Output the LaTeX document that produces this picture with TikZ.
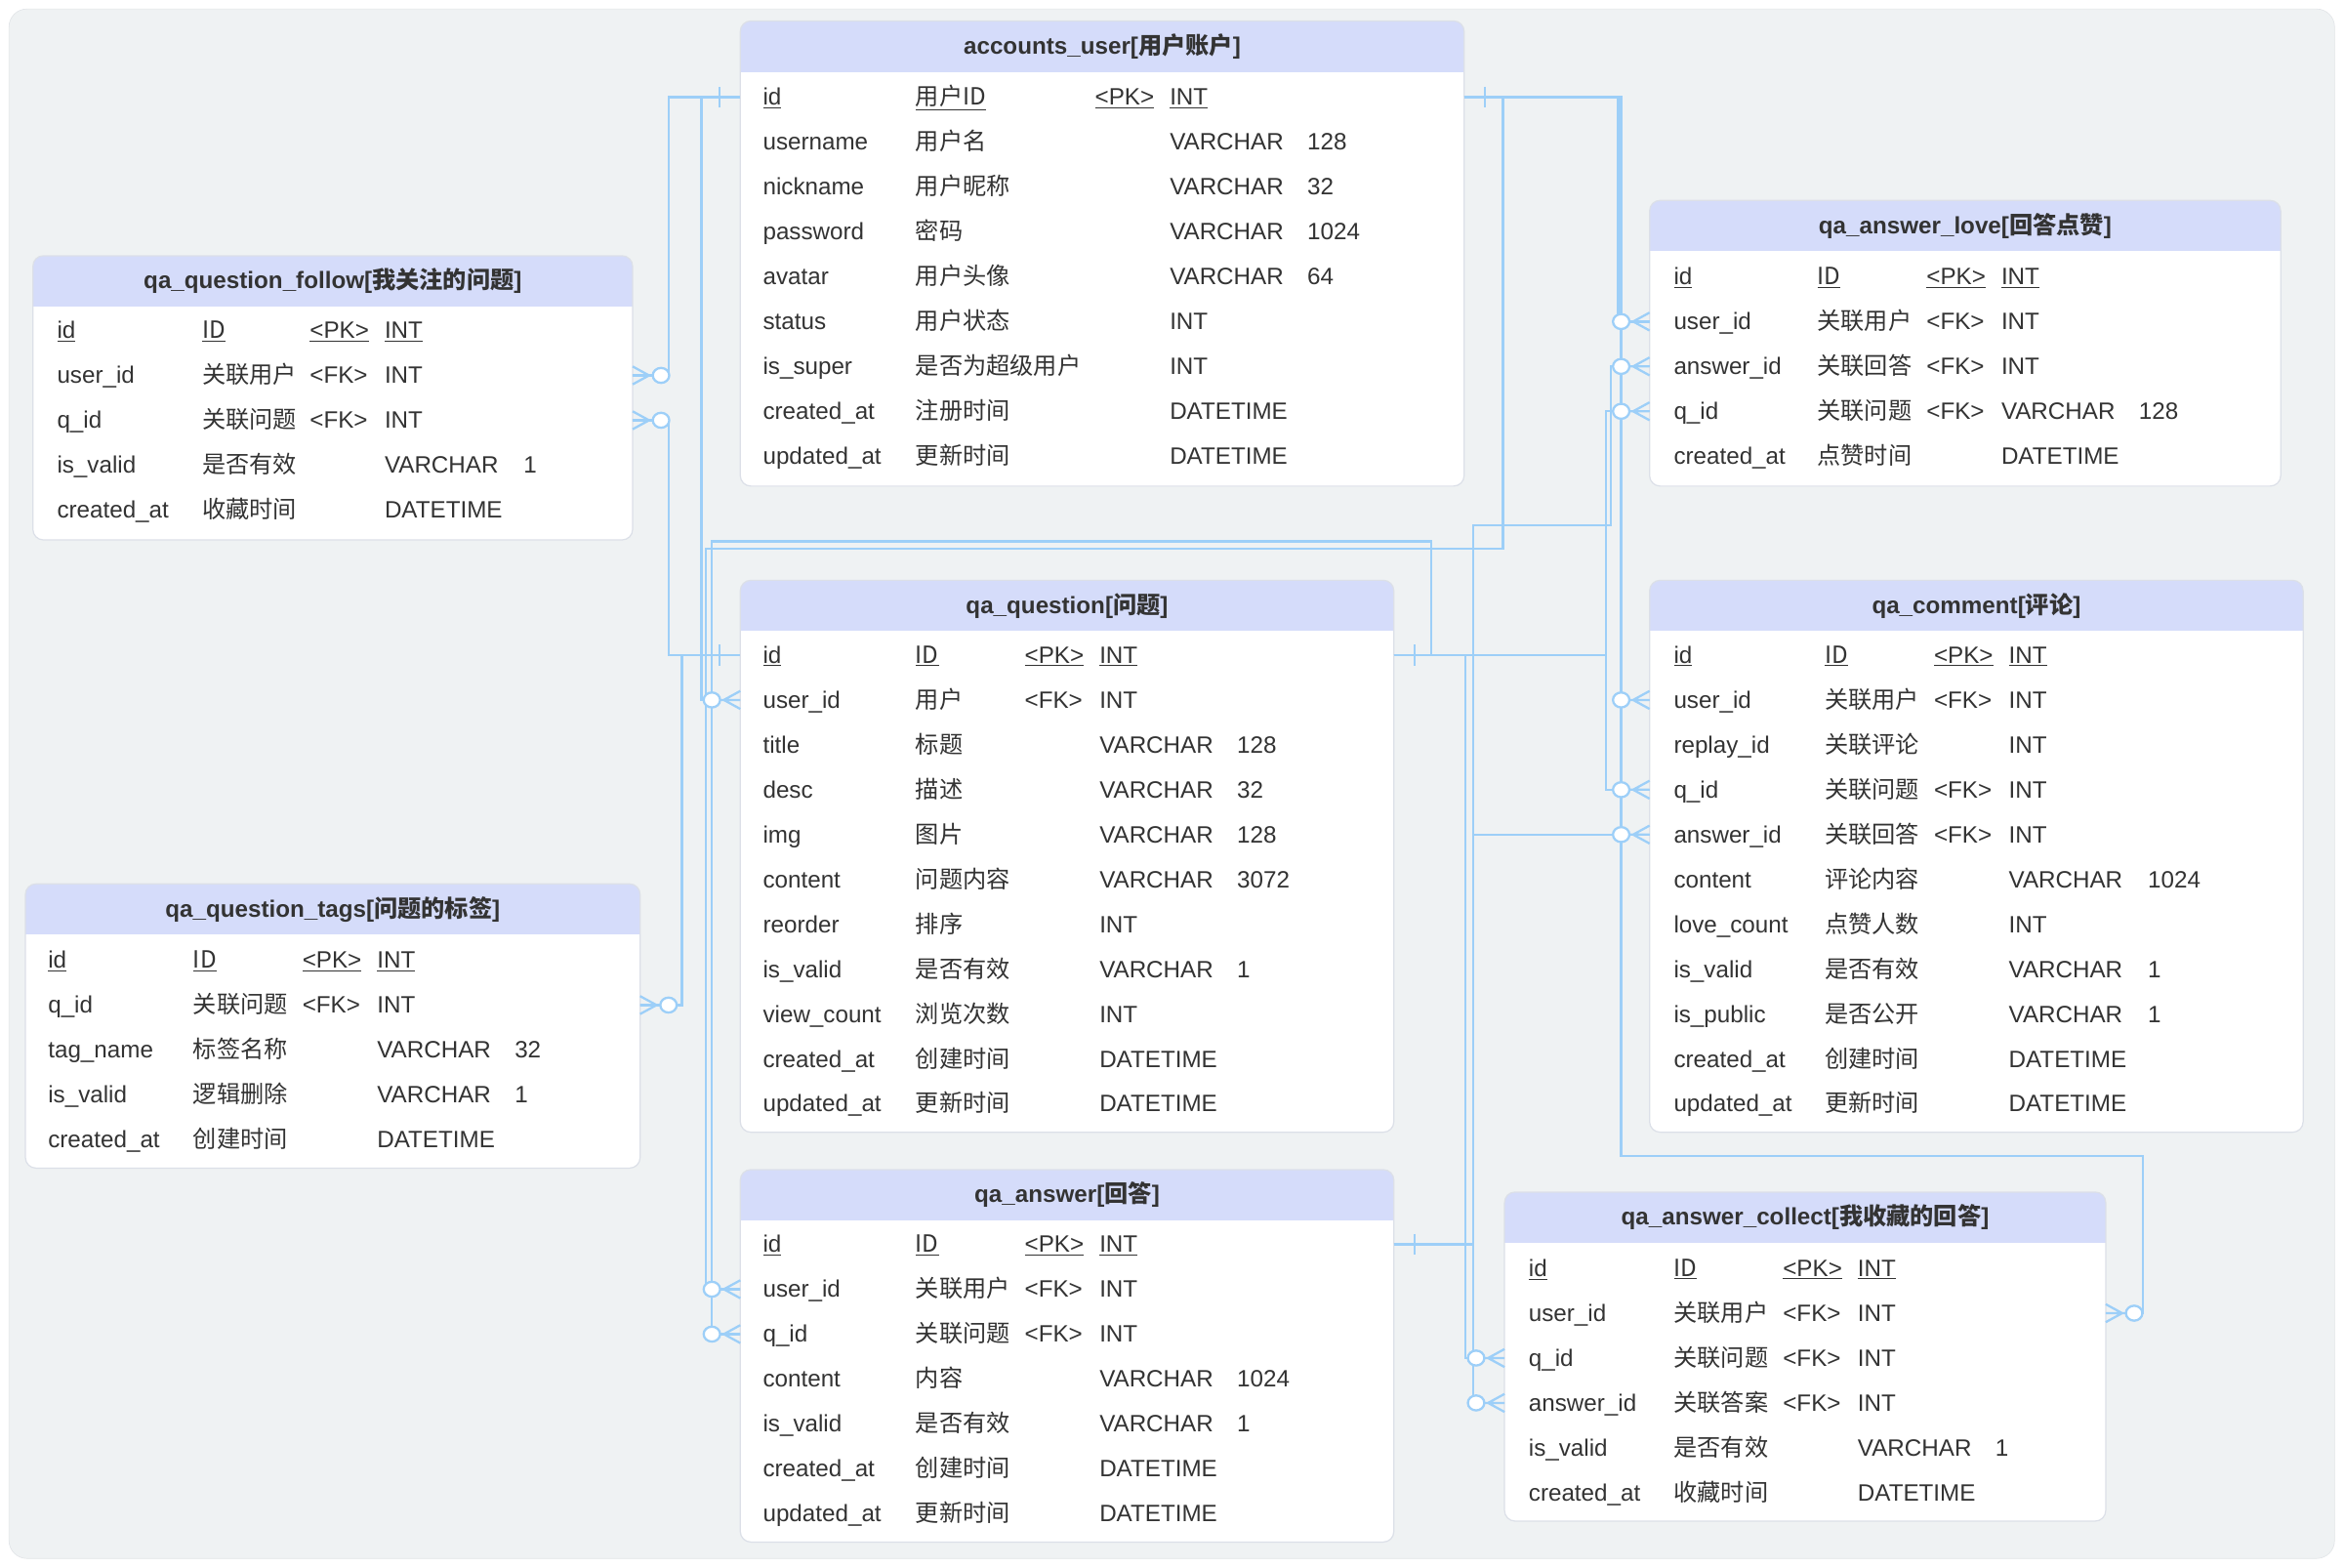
\documentclass[tikz,border=0pt]{standalone}
\usepackage{fontspec}
\setmainfont{Liberation Sans}
\newfontfamily\cjk{Noto Sans CJK SC}
\usepackage{tikz}
\usetikzlibrary{positioning, calc}

\definecolor{panel}{HTML}{EFF2F3}
\definecolor{panelline}{HTML}{E1E4E7}
\definecolor{headfill}{HTML}{D5DCFA}
\definecolor{tblline}{HTML}{DCE0E8}
\definecolor{relblue}{HTML}{9DCFF8}
\definecolor{ink}{HTML}{333333}

\newcommand{\cols}[5]{\def\xa{#1}\def\xb{#2}\def\xc{#3}\def\xd{#4}\def\xe{#5}}
\newcommand{\field}[7]{%
  \node[cell] (#1) at (\xa,#2) {#3};
  \node[cell] (#1-c) at (\xb,#2) {\cjk #4};
  \node[cell] (#1-k) at (\xc,#2) {#5};
  \node[cell] (#1-t) at (\xd,#2) {#6};
  \node[cell] (#1-l) at (\xe,#2) {#7};}

\tikzset{
  tbl/.style={draw=tblline, line width=0.8pt, fill=white, rounded corners=7pt,
    outer sep=0pt, inner sep=0pt, anchor=north west,
    path picture={\fill[headfill, sharp corners] (path picture bounding box.north west)
      rectangle ([yshift=-34pt]path picture bounding box.north east);}},
  ttl/.style={font=\fontsize{15.8pt}{18pt}\selectfont\bfseries, text=ink, inner sep=0pt},
  cell/.style={anchor=west, inner sep=0pt, text height=11pt, text depth=0pt, text=ink,
    font=\fontsize{15.8pt}{18pt}\selectfont},
  rel/.style={draw=relblue, line width=1.5pt},
  crowfoot/.pic={
    \draw[rel] (0,-6) -- (11,0) -- (0,6) (0,0) -- (13.5,0);
    \draw[rel, fill=white] (19,0) circle[x radius=5.5, y radius=5];},
  onebar/.pic={\draw[rel] (14,-7) -- (14,7);}
}

\begin{document}
\begin{tikzpicture}[x=1pt, y=-1pt]
    \useasboundingbox (0,0) rectangle (1568,1048);
    \fill[panel, draw=panelline, rounded corners=12pt] (6,6) rectangle (1561,1042);

    % accounts_user
    \node[tbl, minimum width=484pt, minimum height=311pt] (au) at (495,14) {};
    \node[ttl] (au-title) at ([yshift=-17pt]au.north) {accounts\_user[{\cjk 用户账户}]};
    \cols{510}{612}{732}{782}{874}
    \field{au-id}{65}{\underline{id}}{\underline{用户ID}}{\underline{<PK>}}{\underline{INT}}{}
    \field{au-name}{95}{username}{用户名}{}{VARCHAR}{128}
    \field{au-nick}{125}{nickname}{用户昵称}{}{VARCHAR}{32}
    \field{au-pass}{155}{password}{密码}{}{VARCHAR}{1024}
    \field{au-avatar}{185}{avatar}{用户头像}{}{VARCHAR}{64}
    \field{au-status}{215}{status}{用户状态}{}{INT}{}
    \field{au-super}{245}{is\_super}{是否为超级用户}{}{INT}{}
    \field{au-created}{275}{created\_at}{注册时间}{}{DATETIME}{}
    \field{au-updated}{305}{updated\_at}{更新时间}{}{DATETIME}{}

    % qa_question_follow
    \node[tbl, minimum width=401pt, minimum height=190pt] (qf) at (22,171) {};
    \node[ttl] (qf-title) at ([yshift=-17pt]qf.north) {qa\_question\_follow[{\cjk 我关注的问题}]};
    \cols{38}{135}{207}{257}{350}
    \field{qf-id}{221}{\underline{id}}{\underline{ID}}{\underline{<PK>}}{\underline{INT}}{}
    \field{qf-user}{251}{user\_id}{关联用户}{<FK>}{INT}{}
    \field{qf-q}{281}{q\_id}{关联问题}{<FK>}{INT}{}
    \field{qf-valid}{311}{is\_valid}{是否有效}{}{VARCHAR}{1}
    \field{qf-created}{341}{created\_at}{收藏时间}{}{DATETIME}{}

    % qa_answer_love
    \node[tbl, minimum width=422pt, minimum height=191pt] (love) at (1103,134) {};
    \node[ttl] (love-title) at ([yshift=-17pt]love.north) {qa\_answer\_love[{\cjk 回答点赞}]};
    \cols{1119}{1215}{1288}{1338}{1430}
    \field{love-id}{185}{\underline{id}}{\underline{ID}}{\underline{<PK>}}{\underline{INT}}{}
    \field{love-user}{215}{user\_id}{关联用户}{<FK>}{INT}{}
    \field{love-ans}{245}{answer\_id}{关联回答}{<FK>}{INT}{}
    \field{love-q}{275}{q\_id}{关联问题}{<FK>}{VARCHAR}{128}
    \field{love-created}{305}{created\_at}{点赞时间}{}{DATETIME}{}

    % qa_question
    \node[tbl, minimum width=437pt, minimum height=369pt] (qq) at (495,388) {};
    \node[ttl] (qq-title) at ([yshift=-17pt]qq.north) {qa\_question[{\cjk 问题}]};
    \cols{510}{612}{685}{735}{827}
    \field{qq-id}{438}{\underline{id}}{\underline{ID}}{\underline{<PK>}}{\underline{INT}}{}
    \field{qq-user}{468}{user\_id}{用户}{<FK>}{INT}{}
    \field{qq-title-f}{498}{title}{标题}{}{VARCHAR}{128}
    \field{qq-desc}{528}{desc}{描述}{}{VARCHAR}{32}
    \field{qq-img}{558}{img}{图片}{}{VARCHAR}{128}
    \field{qq-content}{588}{content}{问题内容}{}{VARCHAR}{3072}
    \field{qq-reorder}{618}{reorder}{排序}{}{INT}{}
    \field{qq-valid}{648}{is\_valid}{是否有效}{}{VARCHAR}{1}
    \field{qq-view}{678}{view\_count}{浏览次数}{}{INT}{}
    \field{qq-created}{708}{created\_at}{创建时间}{}{DATETIME}{}
    \field{qq-updated}{738}{updated\_at}{更新时间}{}{DATETIME}{}

    % qa_comment
    \node[tbl, minimum width=437pt, minimum height=369pt] (cm) at (1103,388) {};
    \node[ttl] (cm-title) at ([yshift=-17pt]cm.north) {qa\_comment[{\cjk 评论}]};
    \cols{1119}{1220}{1293}{1343}{1436}
    \field{cm-id}{438}{\underline{id}}{\underline{ID}}{\underline{<PK>}}{\underline{INT}}{}
    \field{cm-user}{468}{user\_id}{关联用户}{<FK>}{INT}{}
    \field{cm-replay}{498}{replay\_id}{关联评论}{}{INT}{}
    \field{cm-q}{528}{q\_id}{关联问题}{<FK>}{INT}{}
    \field{cm-ans}{558}{answer\_id}{关联回答}{<FK>}{INT}{}
    \field{cm-content}{588}{content}{评论内容}{}{VARCHAR}{1024}
    \field{cm-love}{618}{love\_count}{点赞人数}{}{INT}{}
    \field{cm-valid}{648}{is\_valid}{是否有效}{}{VARCHAR}{1}
    \field{cm-public}{678}{is\_public}{是否公开}{}{VARCHAR}{1}
    \field{cm-created}{708}{created\_at}{创建时间}{}{DATETIME}{}
    \field{cm-updated}{738}{updated\_at}{更新时间}{}{DATETIME}{}

    % qa_question_tags
    \node[tbl, minimum width=411pt, minimum height=190pt] (tg) at (17,591) {};
    \node[ttl] (tg-title) at ([yshift=-17pt]tg.north) {qa\_question\_tags[{\cjk 问题的标签}]};
    \cols{32}{129}{202}{252}{344}
    \field{tg-id}{642}{\underline{id}}{\underline{ID}}{\underline{<PK>}}{\underline{INT}}{}
    \field{tg-q}{672}{q\_id}{关联问题}{<FK>}{INT}{}
    \field{tg-name}{702}{tag\_name}{标签名称}{}{VARCHAR}{32}
    \field{tg-valid}{732}{is\_valid}{逻辑删除}{}{VARCHAR}{1}
    \field{tg-created}{762}{created\_at}{创建时间}{}{DATETIME}{}

    % qa_answer
    \node[tbl, minimum width=437pt, minimum height=249pt] (qa) at (495,782) {};
    \node[ttl] (qa-title) at ([yshift=-17pt]qa.north) {qa\_answer[{\cjk 回答}]};
    \cols{510}{612}{685}{735}{827}
    \field{qa-id}{832}{\underline{id}}{\underline{ID}}{\underline{<PK>}}{\underline{INT}}{}
    \field{qa-user}{862}{user\_id}{关联用户}{<FK>}{INT}{}
    \field{qa-q}{892}{q\_id}{关联问题}{<FK>}{INT}{}
    \field{qa-content}{922}{content}{内容}{}{VARCHAR}{1024}
    \field{qa-valid}{952}{is\_valid}{是否有效}{}{VARCHAR}{1}
    \field{qa-created}{982}{created\_at}{创建时间}{}{DATETIME}{}
    \field{qa-updated}{1012}{updated\_at}{更新时间}{}{DATETIME}{}

    % qa_answer_collect
    \node[tbl, minimum width=402pt, minimum height=220pt] (ac) at (1006,797) {};
    \node[ttl] (ac-title) at ([yshift=-17pt]ac.north) {qa\_answer\_collect[{\cjk 我收藏的回答}]};
    \cols{1022}{1119}{1192}{1242}{1334}
    \field{ac-id}{848}{\underline{id}}{\underline{ID}}{\underline{<PK>}}{\underline{INT}}{}
    \field{ac-user}{878}{user\_id}{关联用户}{<FK>}{INT}{}
    \field{ac-q}{908}{q\_id}{关联问题}{<FK>}{INT}{}
    \field{ac-ans}{938}{answer\_id}{关联答案}{<FK>}{INT}{}
    \field{ac-valid}{968}{is\_valid}{是否有效}{}{VARCHAR}{1}
    \field{ac-created}{998}{created\_at}{收藏时间}{}{DATETIME}{}

    % connectors
    \draw[rel] (qf.east |- qf-user) -- ++(24,0) |- (au.west |- au-id);
    \draw[rel] (qf.east |- qf-q) -- ++(24,0) |- (qq.west |- qq-id);
    \draw[rel] (tg.east |- tg-q) -- ++(28,0) |- (qq.west |- qq-id);
    \draw[rel] (au.west |- au-id) -- ++(-26,0) |- (qq.west |- qq-user);
    \draw[rel] (au.east |- au-id) -| (1005,367) -| (472,862) -- (qa.west |- qa-user);
    \draw[rel] (qq.east |- qq-id) -| (957,362) -| (476,892) -- (qa.west |- qa-q);
    \draw[rel] (au.east |- au-id) -| (1082,215) -- (love.west |- love-user);
    \draw[rel] (au.east |- au-id) -| (1084,468) -- (cm.west |- cm-user);
    \draw[rel] (au.east |- au-id) -| (1084,773) -| (1433,878) -- (ac.east |- ac-user);
    \draw[rel] (qq.east |- qq-id) -| (1074,275) -- (love.west |- love-q);
    \draw[rel] (qq.east |- qq-id) -| (1074,528) -- (cm.west |- cm-q);
    \draw[rel] (qq.east |- qq-id) -| (980,908) -- (ac.west |- ac-q);
    \draw[rel] (qa.east |- qa-id) -| (985,351) -| (1077,245) -- (love.west |- love-ans);
    \draw[rel] (qa.east |- qa-id) -| (985,558) -- (cm.west |- cm-ans);
    \draw[rel] (qa.east |- qa-id) -| (985,938) -- (ac.west |- ac-ans);

    % end markers
    \pic[rotate=180] at (au.west |- au-id) {onebar};
    \pic at (au.east |- au-id) {onebar};
    \pic[rotate=180] at (qq.west |- qq-id) {onebar};
    \pic at (qq.east |- qq-id) {onebar};
    \pic at (qa.east |- qa-id) {onebar};
    \pic at (qf.east |- qf-user) {crowfoot};
    \pic at (qf.east |- qf-q) {crowfoot};
    \pic at (tg.east |- tg-q) {crowfoot};
    \pic at (ac.east |- ac-user) {crowfoot};
    \pic[rotate=180] at (qq.west |- qq-user) {crowfoot};
    \pic[rotate=180] at (qa.west |- qa-user) {crowfoot};
    \pic[rotate=180] at (qa.west |- qa-q) {crowfoot};
    \pic[rotate=180] at (love.west |- love-user) {crowfoot};
    \pic[rotate=180] at (love.west |- love-ans) {crowfoot};
    \pic[rotate=180] at (love.west |- love-q) {crowfoot};
    \pic[rotate=180] at (cm.west |- cm-user) {crowfoot};
    \pic[rotate=180] at (cm.west |- cm-q) {crowfoot};
    \pic[rotate=180] at (cm.west |- cm-ans) {crowfoot};
    \pic[rotate=180] at (ac.west |- ac-q) {crowfoot};
    \pic[rotate=180] at (ac.west |- ac-ans) {crowfoot};
\end{tikzpicture}
\end{document}
